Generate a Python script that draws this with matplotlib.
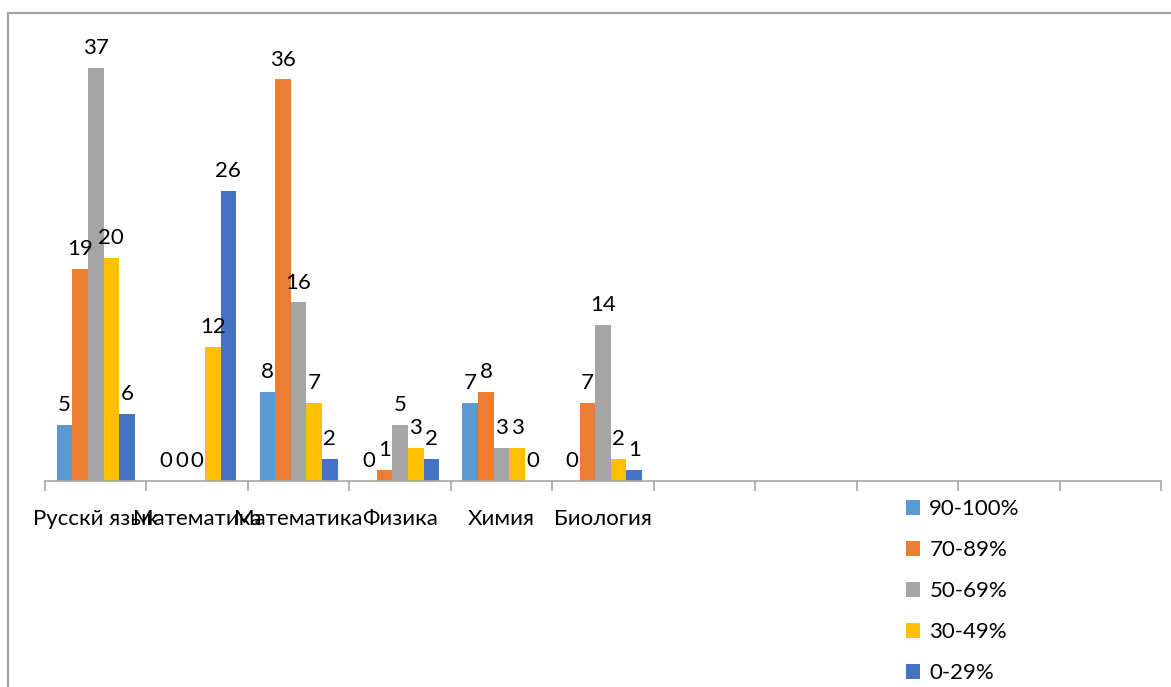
import matplotlib
matplotlib.use("Agg")
import matplotlib.pyplot as plt
from matplotlib.lines import Line2D
import numpy as np

plt.rcParams['font.family'] = ['Lato', 'DejaVu Sans']

subjects = ["Русскй язык", "Математика", "Математика", "Физика", "Химия", "Биология",
            "", "", "", "", ""]
groups = ["90-100%", "70-89%", "50-69%", "30-49%", "0-29%"]
v90 = [5, 0, 8, 0, 7, 0]
v70 = [19, 0, 36, 1, 8, 7]
v50 = [37, 0, 16, 5, 3, 14]
v30 = [20, 12, 7, 3, 3, 2]
v0 = [6, 26, 2, 2, 0, 1]
colors = ["#5B9BD5", "#ED7D31", "#A5A5A5", "#FFC000", "#4472C4"]

fig = plt.figure(figsize=(11.71, 6.87), dpi=100)
ax = fig.add_axes([45/1171, 1-481/687, (1161-45)/1171, (481-20)/687])

x = np.arange(len(v90))
w = 0.154
series = [v90, v70, v50, v30, v0]
for i, vals in enumerate(series):
    b = ax.bar(x + (i-2)*w, vals, width=w, color=colors[i], label=groups[i])
    ax.bar_label(b, padding=7, fontsize=16, color="#000000")

ax.set_xlim(-0.5, len(subjects)-0.5)
ax.set_ylim(0, (481-20)/11.16)
ax.set_xticks(np.arange(len(subjects)))
ax.set_xticklabels(subjects, fontsize=16)
ax.set_xticks(np.arange(len(subjects)+1)-0.5, minor=True)
ax.tick_params(axis='x', which='major', length=0, pad=20)
ax.tick_params(axis='x', which='minor', length=7, color="#A6A6A6", width=1.2)
ax.set_yticks([])
for s in ["top", "right", "left"]:
    ax.spines[s].set_visible(False)
ax.spines["bottom"].set_color("#A6A6A6")
ax.spines["bottom"].set_linewidth(1.2)

ax.legend(loc="upper left", bbox_to_anchor=(886/1171, 1-479/687), bbox_transform=fig.transFigure,
          frameon=False, fontsize=16, handlelength=0.65, handleheight=0.65,
          handletextpad=0.4, labelspacing=0.95)

# outer chart border (cropped)
fig.add_artist(Line2D([7.5/1171, 7.5/1171], [0, 1-13/687], transform=fig.transFigure,
                      color="#A0A0A0", lw=1.5))
fig.add_artist(Line2D([7.5/1171, 1], [1-13/687, 1-13/687], transform=fig.transFigure,
                      color="#A0A0A0", lw=1.5))

fig.savefig("out.png", dpi=100)
